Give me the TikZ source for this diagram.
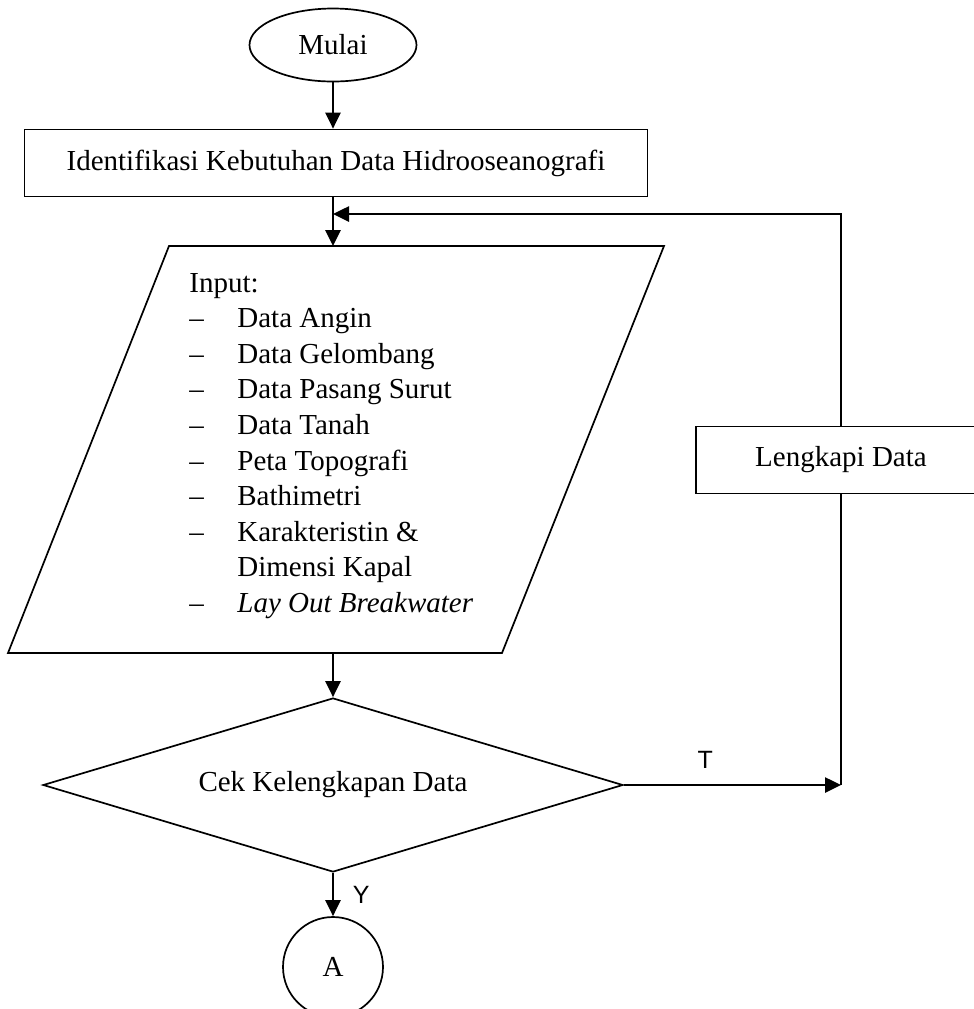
\documentclass[tikz,border=0pt]{standalone}
\usepackage{fontspec}
\setmainfont{Liberation Serif}
\newfontfamily\labelfont{Liberation Sans}
\usetikzlibrary{shapes,arrows.meta}

\begin{document}
\begin{tikzpicture}[x=0.5pt,y=-0.5pt]
  \tikzstyle{every node}=[font=\fontsize{14.5}{17.8}\selectfont]
  \tikzstyle{terminal}=[ellipse,draw,line width=0.85pt,minimum width=83.5pt,minimum height=36.5pt]
  \tikzstyle{proses}=[rectangle,draw,line width=0.85pt,minimum height=33.5pt]
  \tikzstyle{keputusan}=[diamond,draw,line width=0.85pt,aspect=3.33,inner sep=0pt,minimum width=290pt,minimum height=87pt]
  \tikzstyle{konektor}=[circle,draw,line width=0.85pt,minimum size=50pt,inner sep=0pt]
  \tikzstyle{panah}=[line width=1.3pt,-{Triangle[length=8pt,width=7.5pt]}]
  \tikzstyle{garis}=[line width=1.3pt]
  \tikzstyle{ket}=[font=\labelfont\fontsize{12.5}{15}\selectfont]
  \useasboundingbox (0,0) rectangle (974,1009);
  \clip (0,0) rectangle (974,1009);
  \node[terminal] (mulai) at (333,45) {Mulai};
  \node[proses,minimum width=311.5pt] (identifikasi) at (336,163) {Identifikasi Kebutuhan Data Hidrooseanografi};
  \draw[line width=0.85pt] (169,246) -- (664,246) -- (502,653) -- (8,653) -- cycle;
  \coordinate (inAtas) at (333,246);
  \coordinate (inBawah) at (333,653);
  \coordinate (gabung) at (333,214);
  \node[anchor=base west,inner sep=0pt] (input) at (189,292) {\begin{tabular}[t]{@{}p{24pt}@{}l@{}}
    \multicolumn{2}{@{}l}{Input:}\\
    -- & Data Angin\\
    -- & Data Gelombang\\
    -- & Data Pasang Surut\\
    -- & Data Tanah\\
    -- & Peta Topografi\\
    -- & Bathimetri\\
    -- & Karakteristin \&\\
       & Dimensi Kapal\\
    -- & \textit{Lay Out Breakwater}
  \end{tabular}};
  \node[keputusan] (cek) at (333,785) {Cek Kelengkapan Data};
  \node[proses,minimum width=145pt] (lengkapi) at (841,460) {Lengkapi Data};
  \node[konektor] (a) at (333,967) {A};
  \draw[panah] (mulai) -- (mulai |- identifikasi.north);
  \draw[panah] (identifikasi.south -| mulai) -- (inAtas);
  \draw[panah] (lengkapi) |- (gabung);
  \draw[panah] (inBawah) -- (cek);
  \draw[panah] (cek) -- node[ket,pos=0.375,above=4.5pt]{T} (cek -| lengkapi);
  \draw[garis] (cek -| lengkapi) -- (lengkapi);
  \draw[panah] (cek) -- node[ket,right=6pt,pos=0.52]{Y} (a);
\end{tikzpicture}
\end{document}
